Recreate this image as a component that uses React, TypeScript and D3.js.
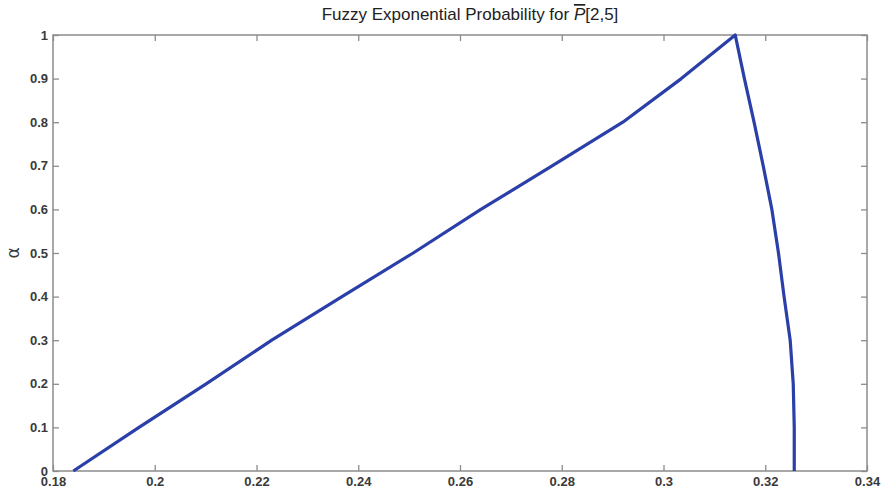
import { useEffect, useRef } from 'react';
import * as d3 from 'd3';

// alpha-cut levels and the left / right ends of each cut
const alphas = [0, 0.1, 0.2, 0.3, 0.4, 0.5, 0.6, 0.7, 0.8, 0.9, 1];
const leftEnds = [0.184, 0.1969, 0.2101, 0.223, 0.2368, 0.2508, 0.2641, 0.2781, 0.292, 0.3035, 0.3141];
const rightEnds = [0.3257, 0.3257, 0.3255, 0.3249, 0.3237, 0.3226, 0.3213, 0.3196, 0.3178, 0.3159, 0.3141];

const xTicks = [0.18, 0.2, 0.22, 0.24, 0.26, 0.28, 0.3, 0.32, 0.34];
const yTicks = [0, 0.1, 0.2, 0.3, 0.4, 0.5, 0.6, 0.7, 0.8, 0.9, 1];

function App() {
  const ref = useRef<SVGSVGElement>(null);

  useEffect(() => {
    const svg = d3.select(ref.current);
    svg.selectAll('*').remove();

    const margin = { top: 35, right: 17, bottom: 21, left: 53 };
    const width = 884 - margin.left - margin.right;
    const height = 492 - margin.top - margin.bottom;

    const x = d3.scaleLinear().domain([0.18, 0.34]).range([0, width]);
    const y = d3.scaleLinear().domain([0, 1]).range([height, 0]);

    const g = svg.append('g').attr('transform', `translate(${margin.left},${margin.top})`);

    const axisColor = '#8c8c8c';
    const labelColor = '#3a3a3a';
    const fmt = (d: number) => d3.format('~g')(d);

    const styleAxis = (sel: any, showText: boolean) => {
      sel.select('.domain').remove();
      sel.selectAll('line').attr('stroke', axisColor).attr('stroke-width', 1.3);
      sel.selectAll('text')
        .attr('fill', labelColor)
        .style('font-family', 'Arial, "Liberation Sans", sans-serif')
        .style('font-size', '13px')
        .style('font-weight', 'bold')
        .style('display', showText ? null : 'none');
    };

    g.append('g')
      .attr('transform', `translate(0,${height})`)
      .call(d3.axisBottom(x).tickValues(xTicks).tickFormat(fmt).tickSizeInner(-6).tickSizeOuter(0).tickPadding(6))
      .call((s: any) => styleAxis(s, true));

    g.append('g')
      .call(d3.axisTop(x).tickValues(xTicks).tickSizeInner(-6).tickSizeOuter(0))
      .call((s: any) => styleAxis(s, false));

    g.append('g')
      .call(d3.axisLeft(y).tickValues(yTicks).tickFormat(fmt).tickSizeInner(-6).tickSizeOuter(0).tickPadding(5))
      .call((s: any) => styleAxis(s, true));

    g.append('g')
      .attr('transform', `translate(${width},0)`)
      .call(d3.axisRight(y).tickValues(yTicks).tickSizeInner(-6).tickSizeOuter(0))
      .call((s: any) => styleAxis(s, false));

    g.append('rect')
      .attr('width', width)
      .attr('height', height)
      .attr('fill', 'none')
      .attr('stroke', axisColor)
      .attr('stroke-width', 1.5);

    // membership function: left side up, right side down
    const pts: [number, number][] = [
      ...alphas.map((a, i) => [leftEnds[i], a] as [number, number]),
      ...alphas.map((a, i) => [rightEnds[i], a] as [number, number]).reverse().slice(1),
    ];

    g.append('path')
      .datum(pts)
      .attr('fill', 'none')
      .attr('stroke', '#2a3fa8')
      .attr('stroke-width', 3.2)
      .attr('stroke-linejoin', 'round')
      .attr('d', d3.line<[number, number]>().x((d) => x(d[0])).y((d) => y(d[1])));

    // y label
    svg.append('text')
      .attr('transform', `translate(19,253) rotate(-90)`)
      .attr('text-anchor', 'middle')
      .attr('fill', labelColor)
      .style('font-family', '"DejaVu Sans", sans-serif')
      .style('font-size', '17px')
      .text('α');

    // title with overlined italic P
    const title = svg.append('text')
      .attr('x', 470)
      .attr('y', 20)
      .attr('text-anchor', 'middle')
      .attr('fill', '#222')
      .style('font-family', 'Arial, "Liberation Sans", sans-serif')
      .style('font-size', '17px');
    title.append('tspan').text('Fuzzy Exponential Probability for ');
    title.append('tspan').style('font-style', 'italic').style('text-decoration', 'overline').text('P');
    title.append('tspan').text('[2,5]');
  }, []);

  return (
    <div style={{ position: 'fixed', left: 0, top: 0 }}>
      <svg ref={ref} width="884" height="492" style={{ display: 'block', background: '#fff' }}></svg>
    </div>
  );
}

export default App;
